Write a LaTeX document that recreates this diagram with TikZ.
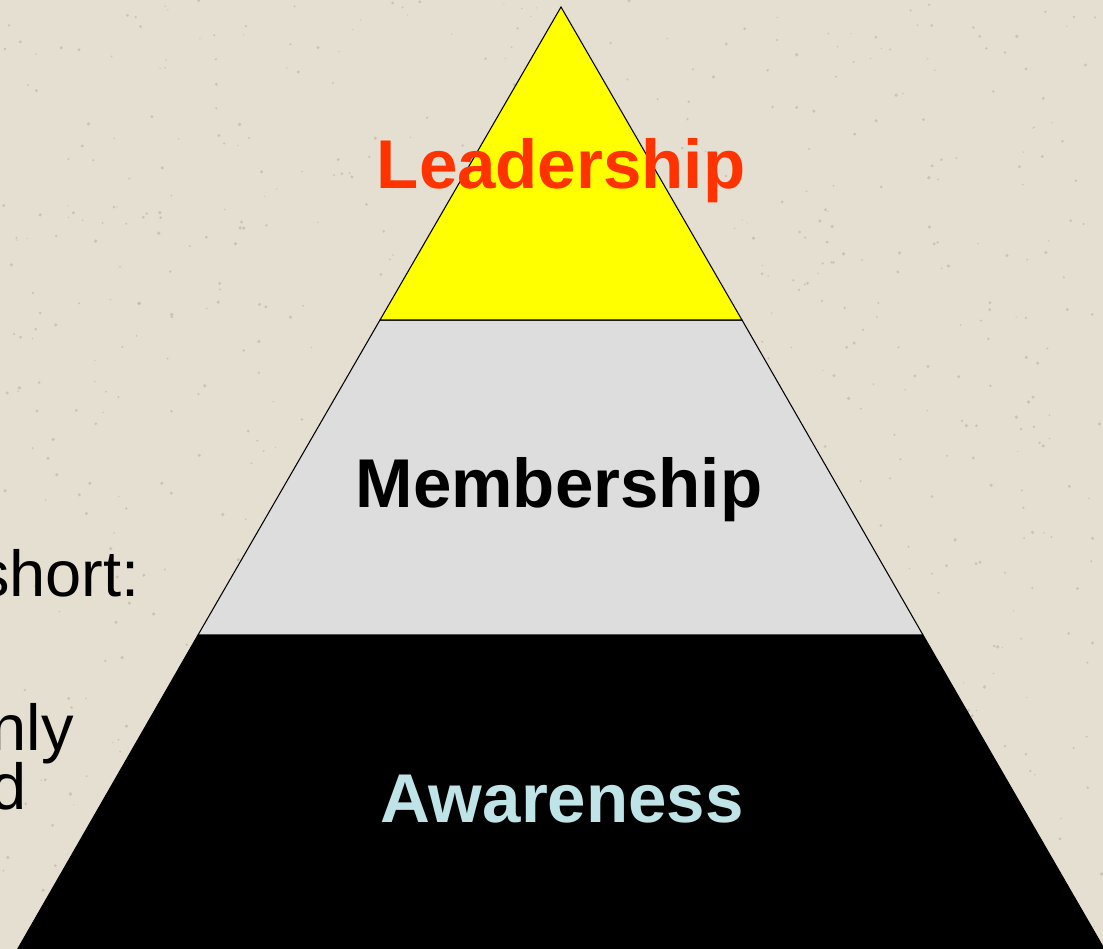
\documentclass[tikz,border=0pt]{standalone}
\usepackage{fontspec}
\setmainfont{Liberation Sans}
\usepackage{xcolor}

\definecolor{paper}{RGB}{229,223,210}
\definecolor{speck}{RGB}{186,179,164}
\definecolor{leadred}{RGB}{255,51,0}
\definecolor{tiergray}{RGB}{221,221,221}
\definecolor{awareblue}{RGB}{190,228,232}
\definecolor{tieryellow}{RGB}{255,255,0}

\tikzset{
  tier/.style={draw=black, line width=0.6pt},
  tierlabel/.style={anchor=base, inner sep=0pt, font=\fontsize{39.3}{47}\selectfont\bfseries},
  sidetext/.style={anchor=base east, inner sep=0pt, font=\fontsize{37}{44}\selectfont}
}

\begin{document}
\begin{tikzpicture}[x=0.02cm, y=-0.02cm]
    \useasboundingbox (0,0) rectangle (1103,949);
    \clip (0,0) rectangle (1103,949);

    % Paper background with a light speckle
    \fill[paper] (0,0) rectangle (1103,949);
    \pgfmathsetseed{4711}
    \foreach \i in {1,...,900} {
        \pgfmathsetmacro{\px}{rnd*1103}
        \pgfmathsetmacro{\py}{rnd*949}
        \pgfmathsetmacro{\pr}{0.6+rnd*1.3}
        \fill[speck, opacity=0.6] (\px,\py) circle (\pr);
    }

    % Side text running off the left edge
    \node[sidetext] (shorttxt) at (140,597) {short:};
    \node[sidetext] (onlytxt) at (74,750) {nly};
    \node[sidetext] (andtxt) at (27,809) {d};

    % Pyramid tiers (apex at 561,7; slope 0.578)
    \fill[black] (198,635) -- (923,635) -- (1106,952) -- (16,952) -- cycle;
    \draw[tier, fill=tiergray] (380,320) -- (742,320) -- (923,635) -- (198,635) -- cycle;
    \draw[tier, fill=tieryellow] (561,7) -- (742,320) -- (380,320) -- cycle;
    \draw[tier] (198,635) -- (16,952);
    \draw[tier] (923,635) -- (1106,952);

    % Tier labels
    \node[tierlabel, text=leadred] (lead) at (561,189) {Leadership};
    \node[tierlabel, text=black] (memb) at (559,508) {Membership};
    \node[tierlabel, text=awareblue] (aware) at (562,822) {Awareness};
\end{tikzpicture}
\end{document}
